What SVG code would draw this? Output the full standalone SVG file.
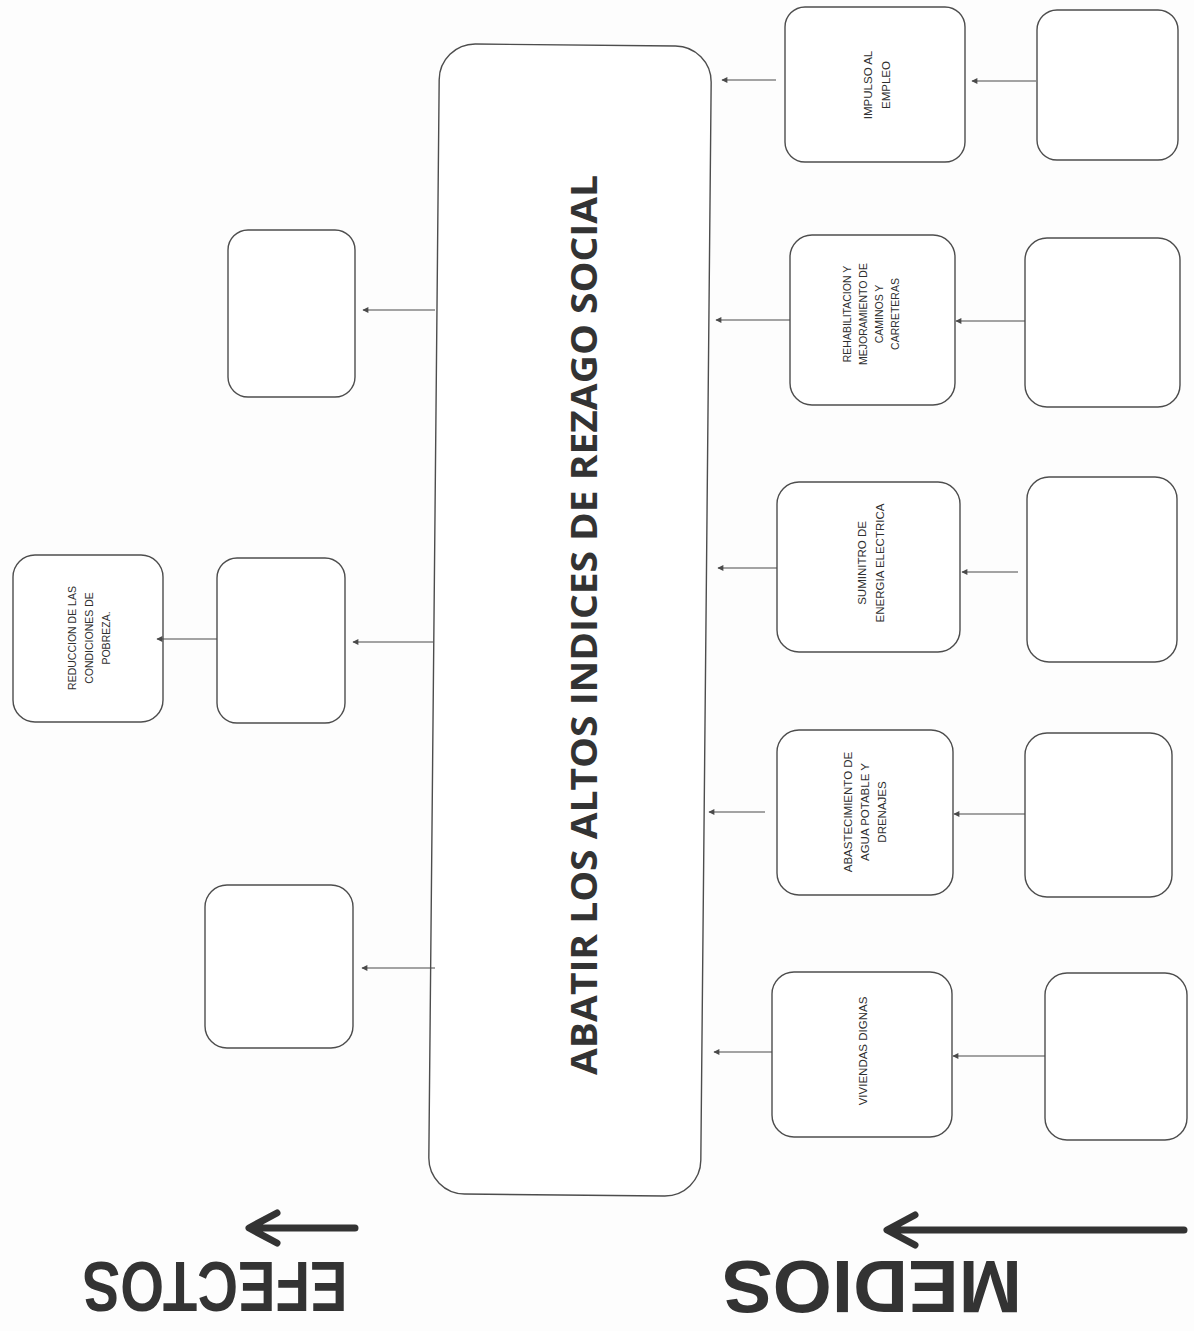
<svg xmlns="http://www.w3.org/2000/svg" width="1194" height="1331" viewBox="0 0 1194 1331">
<defs>
<style>
.box{fill:#ffffff;stroke:#4d4d4d;stroke-width:1.4}
.conn{stroke:#4a4a4a;stroke-width:1.1;fill:none}
.lbl{font-family:"Liberation Sans",Arial,sans-serif;fill:#2e2e2e;text-anchor:middle}
.big{font-family:"Open Sans","Noto Sans",sans-serif;font-weight:bold;fill:#333333;text-anchor:middle}
.side{font-family:"Liberation Sans",Arial,sans-serif;font-weight:bold;fill:#333333;text-anchor:middle}
.bigarrow{stroke:#333333;stroke-width:7;fill:none;stroke-linecap:round;stroke-linejoin:round}
</style>
<marker id="ah" viewBox="0 0 10 10" refX="9" refY="5" markerWidth="7" markerHeight="6" markerUnits="userSpaceOnUse" orient="auto">
<path d="M0,0 L10,5 L0,10 z" fill="#4a4a4a"/>
</marker>
</defs>
<rect x="0" y="0" width="1194" height="1331" fill="#fdfdfd"/>

<g id="central">
<rect class="box" x="434" y="45" width="272" height="1150" rx="36" ry="36" transform="rotate(0.55 570 620)"/>
<text class="big" font-size="36" textLength="900" lengthAdjust="spacingAndGlyphs" transform="translate(597 625) rotate(-90)">ABATIR LOS ALTOS INDICES DE REZAGO SOCIAL</text>
</g>

<g id="medio1">
<rect class="box" x="785" y="7" width="180" height="155" rx="20"/>
<text class="lbl" font-size="11.5" transform="translate(872 85) rotate(-90)"><tspan x="0" y="0">IMPULSO AL</tspan><tspan x="0" y="18">EMPLEO</tspan></text>
</g>
<g id="fuente1"><rect class="box" x="1037" y="10" width="141" height="150" rx="20"/></g>

<g id="medio2">
<rect class="box" x="790" y="235" width="165" height="170" rx="22"/>
<text class="lbl" font-size="10.5" transform="translate(851 314) rotate(-90)"><tspan x="0" y="0">REHABILITACION Y</tspan><tspan x="0" y="16">MEJORAMIENTO DE</tspan><tspan x="0" y="32">CAMINOS Y</tspan><tspan x="0" y="48">CARRETERAS</tspan></text>
</g>
<g id="fuente2"><rect class="box" x="1025" y="238" width="155" height="169" rx="22"/></g>

<g id="medio3">
<rect class="box" x="777" y="482" width="183" height="170" rx="22"/>
<text class="lbl" font-size="11.5" transform="translate(866 563) rotate(-90)"><tspan x="0" y="0">SUMINITRO DE</tspan><tspan x="0" y="18">ENERGIA ELECTRICA</tspan></text>
</g>
<g id="fuente3"><rect class="box" x="1027" y="477" width="150" height="185" rx="22"/></g>

<g id="medio4">
<rect class="box" x="777" y="730" width="176" height="165" rx="22"/>
<text class="lbl" font-size="11.5" transform="translate(852 812) rotate(-90)"><tspan x="0" y="0">ABASTECIMIENTO DE</tspan><tspan x="0" y="17">AGUA POTABLE Y</tspan><tspan x="0" y="34">DRENAJES</tspan></text>
</g>
<g id="fuente4"><rect class="box" x="1025" y="733" width="147" height="164" rx="22"/></g>

<g id="medio5">
<rect class="box" x="772" y="972" width="180" height="165" rx="22"/>
<text class="lbl" font-size="11.5" transform="translate(867 1051) rotate(-90)">VIVIENDAS DIGNAS</text>
</g>
<g id="fuente5"><rect class="box" x="1045" y="973" width="142" height="167" rx="22"/></g>

<g id="efecto1"><rect class="box" x="228" y="230" width="127" height="167" rx="20"/></g>
<g id="efecto2"><rect class="box" x="217" y="558" width="128" height="165" rx="20"/></g>
<g id="efecto3"><rect class="box" x="205" y="885" width="148" height="163" rx="22"/></g>
<g id="efecto_reduccion">
<rect class="box" x="13" y="555" width="150" height="167" rx="22"/>
<text class="lbl" font-size="10.5" transform="translate(76 638) rotate(-90)"><tspan x="0" y="0">REDUCCION DE LAS</tspan><tspan x="0" y="17">CONDICIONES DE</tspan><tspan x="0" y="34">POBREZA.</tspan></text>
</g>

<g id="connectors">
<line class="conn" x1="1036" y1="81" x2="972" y2="81" marker-end="url(#ah)"/>
<line class="conn" x1="776" y1="80" x2="722" y2="80" marker-end="url(#ah)"/>
<line class="conn" x1="1025" y1="321" x2="956" y2="321" marker-end="url(#ah)"/>
<line class="conn" x1="790" y1="320" x2="716" y2="320" marker-end="url(#ah)"/>
<line class="conn" x1="1018" y1="572" x2="962" y2="572" marker-end="url(#ah)"/>
<line class="conn" x1="777" y1="568" x2="718" y2="568" marker-end="url(#ah)"/>
<line class="conn" x1="1025" y1="814" x2="954" y2="814" marker-end="url(#ah)"/>
<line class="conn" x1="765" y1="812" x2="709" y2="812" marker-end="url(#ah)"/>
<line class="conn" x1="1045" y1="1056" x2="953" y2="1056" marker-end="url(#ah)"/>
<line class="conn" x1="772" y1="1052" x2="714" y2="1052" marker-end="url(#ah)"/>
<line class="conn" x1="435" y1="310" x2="363" y2="310" marker-end="url(#ah)"/>
<line class="conn" x1="433" y1="642" x2="353" y2="642" marker-end="url(#ah)"/>
<line class="conn" x1="217" y1="639" x2="157" y2="639" marker-end="url(#ah)"/>
<line class="conn" x1="435" y1="968" x2="362" y2="968" marker-end="url(#ah)"/>
</g>

<g id="label_efectos">
<path class="bigarrow" d="M355,1228 L250,1228 M277,1213 L249,1228 L277,1243"/>
<text class="side" font-size="70" textLength="265" lengthAdjust="spacingAndGlyphs" transform="translate(215 1262) rotate(180)">EFECTOS</text>
</g>
<g id="label_medios">
<path class="bigarrow" d="M1184,1230 L888,1230 M915,1215 L887,1230 L915,1245"/>
<text class="side" font-size="75" textLength="300" lengthAdjust="spacingAndGlyphs" transform="translate(872 1261) rotate(180)">MEDIOS</text>
</g>
</svg>
